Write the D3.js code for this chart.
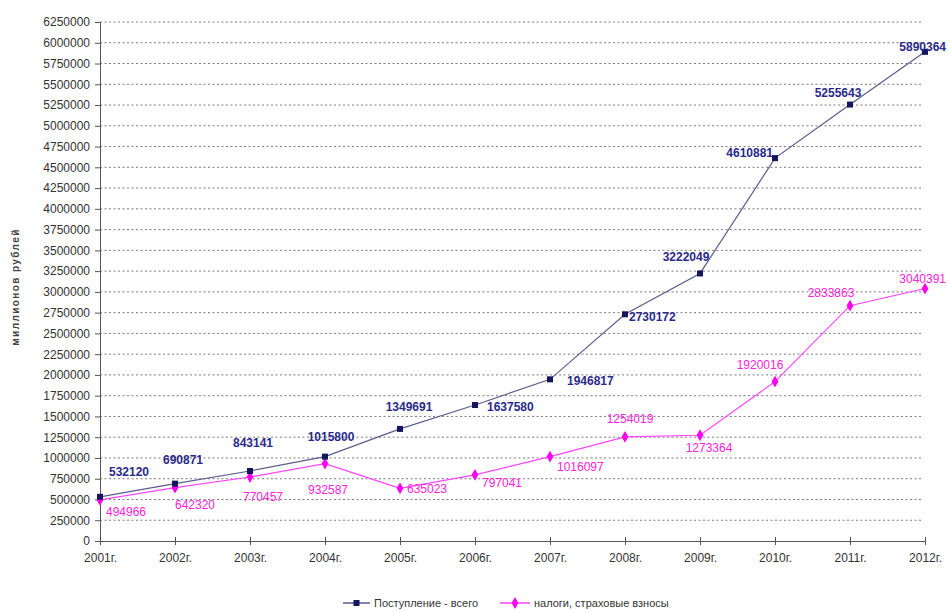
<!DOCTYPE html>
<html><head><meta charset="utf-8">
<script src="https://cdn.jsdelivr.net/npm/d3@7"></script>
<style>
body{margin:0;background:#fff;}
svg{display:block;}
</style></head><body>
<svg id="c" width="948" height="612"></svg>
<script>
const years = ["2001г.","2002г.","2003г.","2004г.","2005г.","2006г.","2007г.","2008г.","2009г.","2010г.","2011г.","2012г."];
const totalRevenue = [532120, 690871, 843141, 1015800, 1349691, 1637580, 1946817, 2730172, 3222049, 4610881, 5255643, 5890364];
const taxesContrib = [494966, 642320, 770457, 932587, 635023, 797041, 1016097, 1254019, 1273364, 1920016, 2833863, 3040391];
const yTicks = [0,250000,500000,750000,1000000,1250000,1500000,1750000,2000000,2250000,2500000,2750000,3000000,3250000,3500000,3750000,4000000,4250000,4500000,4750000,5000000,5250000,5500000,5750000,6000000,6250000];
const seriesNames = ["Поступление - всего","налоги, страховые взносы"];
const yTitle = "миллионов рублей";

// label placement (layout only): [dx, dy, anchor]
const totalLabelPos = [[29,-25,"middle"],[8,-24,"middle"],[3,-28,"middle"],[6,-20,"middle"],[9,-22,"middle"],[12,2,"start"],[17,1,"start"],[4,3,"start"],[-14,-17,"middle"],[-2,-5,"end"],[-12,-12,"middle"],[21,-5,"end"]];
const taxLabelPos = [[26,12,"middle"],[20,17,"middle"],[13,20,"middle"],[3,26,"middle"],[7,1,"start"],[7,8,"start"],[7,10,"start"],[5,-18,"middle"],[9,13,"middle"],[-15,-17,"middle"],[-19,-13,"middle"],[21,-10,"end"]];

(function(){
const svg = d3.select("#c");
const mLeft = 100, mRight = 925, mTop = 22, mBottom = 541;
const x = d3.scalePoint().domain(years).range([mLeft, mRight]);
const y = d3.scaleLinear().domain([0, 6250000]).range([mBottom, mTop]);
const font = "'Liberation Sans', Arial, sans-serif";

// gridlines
svg.append("g").selectAll("line").data(yTicks.filter(d=>d>0)).join("line")
  .attr("x1", mLeft).attr("x2", mRight - 2)
  .attr("y1", d=>y(d)).attr("y2", d=>y(d))
  .attr("stroke", "#7a7a7a").attr("stroke-width", 1).attr("stroke-dasharray", "2,2.5");

// y axis
const yAxis = svg.append("g").attr("transform", `translate(${mLeft},0)`)
  .call(d3.axisLeft(y).tickValues(yTicks).tickSize(5).tickPadding(5).tickFormat(d3.format("d")));
yAxis.select(".domain").attr("stroke", "#555");
yAxis.selectAll(".tick line").attr("stroke", "#555");
yAxis.selectAll("text").attr("font-family", font).attr("font-size", 12).attr("fill", "#333");

// x axis
const xAxis = svg.append("g").attr("transform", `translate(0,${mBottom})`)
  .call(d3.axisBottom(x).tickSize(4).tickPadding(8));
xAxis.select(".domain").attr("stroke", "#555");
xAxis.selectAll(".tick line").attr("stroke", "#555").attr("y1", -4).attr("y2", 4);
xAxis.selectAll("text").attr("font-family", font).attr("font-size", 12).attr("fill", "#333");

// y title
svg.append("text").attr("transform", `translate(19,287) rotate(-90)`)
  .attr("text-anchor", "middle").attr("font-family", font).attr("font-size", 10)
  .attr("font-weight", "bold").attr("letter-spacing", 1.4).attr("fill", "#444").text(yTitle);

const line = d3.line().x((d,i)=>x(years[i])).y(d=>y(d));

// taxes series
svg.append("path").datum(taxesContrib).attr("d", line)
  .attr("fill", "none").attr("stroke", "#ff44ff").attr("stroke-width", 1.2);
svg.append("g").selectAll("path").data(taxesContrib).join("path")
  .attr("d", d3.symbol(d3.symbolDiamond, 40))
  .attr("transform", (d,i)=>`translate(${x(years[i])},${y(d)})`)
  .attr("fill", "#ff00ee");

// total series
svg.append("path").datum(totalRevenue).attr("d", line)
  .attr("fill", "none").attr("stroke", "#5c5c8e").attr("stroke-width", 1.2);
svg.append("g").selectAll("rect").data(totalRevenue).join("rect")
  .attr("x", (d,i)=>x(years[i])-3).attr("y", d=>y(d)-3)
  .attr("width", 6).attr("height", 6).attr("fill", "#15155e");

// labels
svg.append("g").selectAll("text").data(totalRevenue).join("text")
  .attr("x", (d,i)=>x(years[i]) + totalLabelPos[i][0])
  .attr("y", (d,i)=>y(d) + totalLabelPos[i][1])
  .attr("dy", "0.35em").attr("text-anchor", (d,i)=>totalLabelPos[i][2])
  .attr("font-family", font).attr("font-size", 12).attr("font-weight", "bold")
  .attr("fill", "#2a2a8a").text(d=>d);
svg.append("g").selectAll("text").data(taxesContrib).join("text")
  .attr("x", (d,i)=>x(years[i]) + taxLabelPos[i][0])
  .attr("y", (d,i)=>y(d) + taxLabelPos[i][1])
  .attr("dy", "0.35em").attr("text-anchor", (d,i)=>taxLabelPos[i][2])
  .attr("font-family", font).attr("font-size", 12)
  .attr("fill", "#ff22dd").text(d=>d);

// legend
const lg = svg.append("g").attr("transform", "translate(0,603)");
lg.append("line").attr("x1", 343).attr("x2", 370).attr("y1", 0).attr("y2", 0).attr("stroke", "#5c5c8e").attr("stroke-width", 1.5);
lg.append("rect").attr("x", 353.5).attr("y", -3).attr("width", 6).attr("height", 6).attr("fill", "#15155e");
lg.append("text").attr("x", 374).attr("y", 0).attr("dy", "0.35em").attr("font-family", font).attr("font-size", 11).attr("fill", "#333").text(seriesNames[0]);
lg.append("line").attr("x1", 500).attr("x2", 530).attr("y1", 0).attr("y2", 0).attr("stroke", "#ff44ff").attr("stroke-width", 1.5);
lg.append("path").attr("d", d3.symbol(d3.symbolDiamond, 40)).attr("transform", "translate(515,0)").attr("fill", "#ff00ee");
lg.append("text").attr("x", 534).attr("y", 0).attr("dy", "0.35em").attr("font-family", font).attr("font-size", 11).attr("fill", "#333").text(seriesNames[1]);
})();
</script>
</body></html>
